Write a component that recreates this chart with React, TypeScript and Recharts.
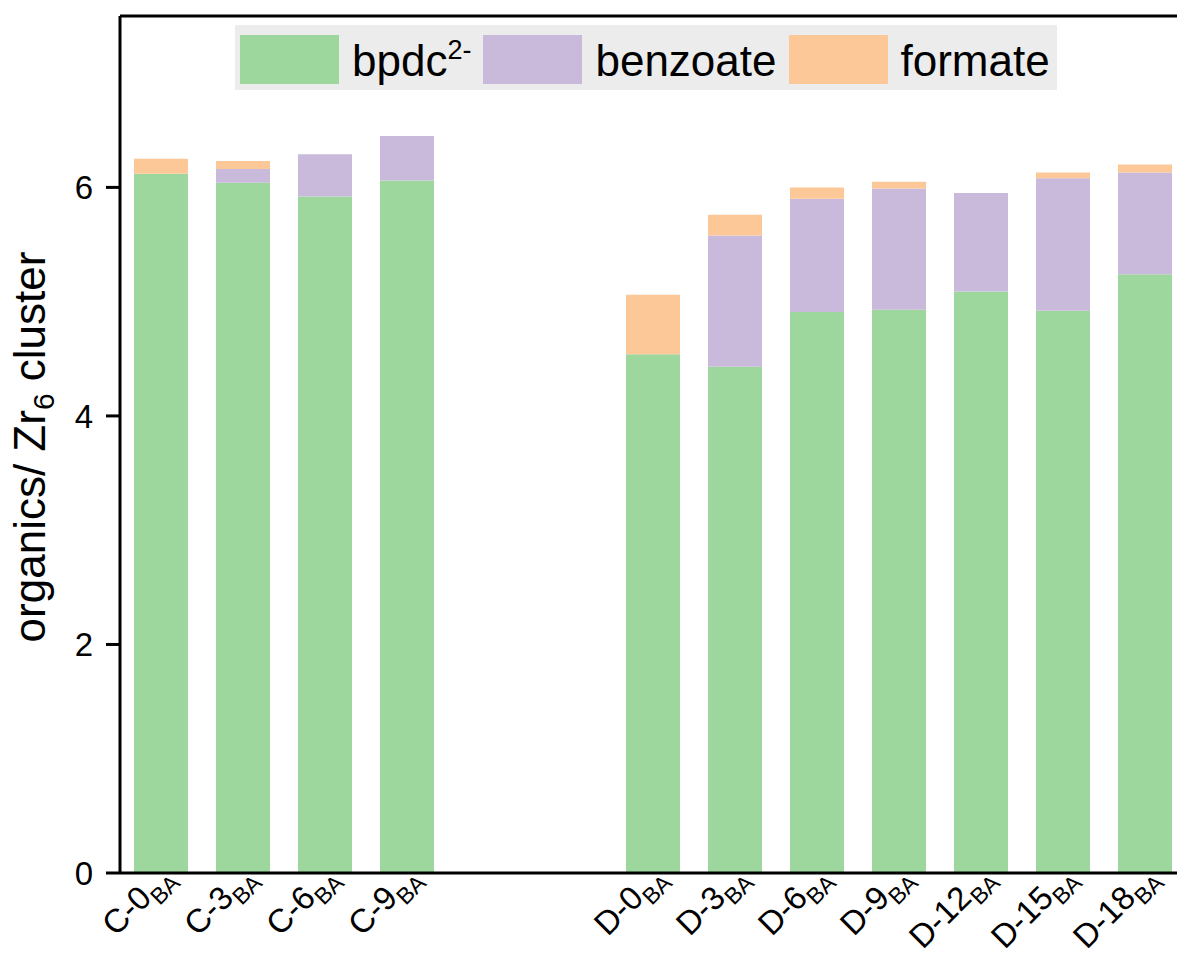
import React from 'react';
import { BarChart, Bar, XAxis, YAxis, ReferenceLine, Legend } from 'recharts';

// sample names, the two "gap" slots keep the space between the C and D series
const categories = ['C-0', 'C-3', 'C-6', 'C-9', 'gap-1', 'gap-2', 'D-0', 'D-3', 'D-6', 'D-9', 'D-12', 'D-15', 'D-18'];
const bpdc = [6.12, 6.04, 5.92, 6.06, null, null, 4.54, 4.43, 4.91, 4.93, 5.09, 4.92, 5.24];
const benzoate = [0, 0.12, 0.37, 0.39, null, null, 0, 1.15, 0.99, 1.06, 0.86, 1.16, 0.89];
const formate = [0.13, 0.07, 0, 0, null, null, 0.52, 0.18, 0.1, 0.06, 0, 0.05, 0.07];
const yTicks = [0, 2, 4, 6];

const FONT = '"Liberation Sans", Arial, Helvetica, sans-serif';

const series = [
  { key: 'bpdc', label: 'bpdc', sup: '2-', color: '#9ED79E' },
  { key: 'benzoate', label: 'benzoate', sup: '', color: '#C9BADB' },
  { key: 'formate', label: 'formate', sup: '', color: '#FCC897' },
];

const data = categories.map((name, i) => ({
  name,
  bpdc: bpdc[i],
  benzoate: benzoate[i],
  formate: formate[i],
}));

const SampleTick = (props: any) => {
  const { x, y, payload } = props;
  const label: string = payload.value;
  if (label.startsWith('gap')) return <g />;
  const ax = x + 14;
  const ay = y + 5;
  return (
    <text
      x={ax}
      y={ay}
      transform={`rotate(-45, ${ax}, ${ay})`}
      textAnchor="end"
      fontFamily={FONT}
      fill="#000"
    >
      <tspan fontSize={33}>{label}</tspan>
      <tspan fontSize={23} dy={9}>BA</tspan>
    </text>
  );
};

const YLabel = () => (
  <text
    x={45}
    y={447}
    transform="rotate(-90, 45, 447)"
    textAnchor="middle"
    fontFamily={FONT}
    fontSize={44}
    fill="#000"
  >
    <tspan>organics/ Zr</tspan>
    <tspan fontSize={30} dy={9}>6</tspan>
    <tspan dy={-9}>{' cluster'}</tspan>
  </text>
);

const renderLegend = () => (
  <div
    style={{
      display: 'flex',
      alignItems: 'center',
      background: '#ECECEC',
      width: 822,
      height: 65,
      paddingLeft: 5,
      boxSizing: 'border-box',
      fontFamily: FONT,
      fontSize: 44,
      color: '#000',
    }}
  >
    {series.map((s, i) => (
      <React.Fragment key={s.key}>
        <span
          style={{
            display: 'inline-block',
            width: 99,
            height: 49,
            background: s.color,
            marginLeft: i === 0 ? 0 : 12,
            marginTop: 3,
          }}
        />
        <span style={{ marginLeft: 13, lineHeight: 1, whiteSpace: 'nowrap', position: 'relative', top: 3 }}>
          {s.label}
          {s.sup && (
            <span style={{ fontSize: 27, position: 'relative', top: -17 }}>{s.sup}</span>
          )}
        </span>
      </React.Fragment>
    ))}
  </div>
);

export default function App() {
  return (
    <div
      style={{
        position: 'absolute',
        left: 0,
        top: 0,
        width: 1177,
        height: 956,
        overflow: 'hidden',
        background: '#fff',
        fontFamily: FONT,
      }}
    >
      <BarChart
        width={1200}
        height={956}
        data={data}
        margin={{ top: 16, right: 14, bottom: 0, left: 0 }}
      >
        <XAxis
          dataKey="name"
          interval={0}
          height={83}
          tickLine={false}
          tickSize={0}
          tickMargin={0}
          axisLine={{ stroke: '#000', strokeWidth: 3 }}
          tick={<SampleTick />}
        />
        <YAxis
          width={120}
          domain={[0, 7.5]}
          ticks={yTicks}
          allowDataOverflow
          tickSize={14}
          tickMargin={13}
          axisLine={{ stroke: '#000', strokeWidth: 3 }}
          tickLine={{ stroke: '#000', strokeWidth: 3 }}
          tick={{ fill: '#000', fontSize: 33, fontFamily: FONT }}
          label={<YLabel />}
        />
        <ReferenceLine y={7.5} stroke="#000" strokeWidth={3} />
        <Legend
          layout="horizontal"
          verticalAlign="middle"
          align="center"
          content={renderLegend}
          wrapperStyle={{ position: 'absolute', top: 25, left: 235, width: 822, height: 65 }}
        />
        {series.map((s) => (
          <Bar
            key={s.key}
            dataKey={s.key}
            stackId="organics"
            fill={s.color}
            barSize={54}
            isAnimationActive={false}
          />
        ))}
      </BarChart>
    </div>
  );
}
